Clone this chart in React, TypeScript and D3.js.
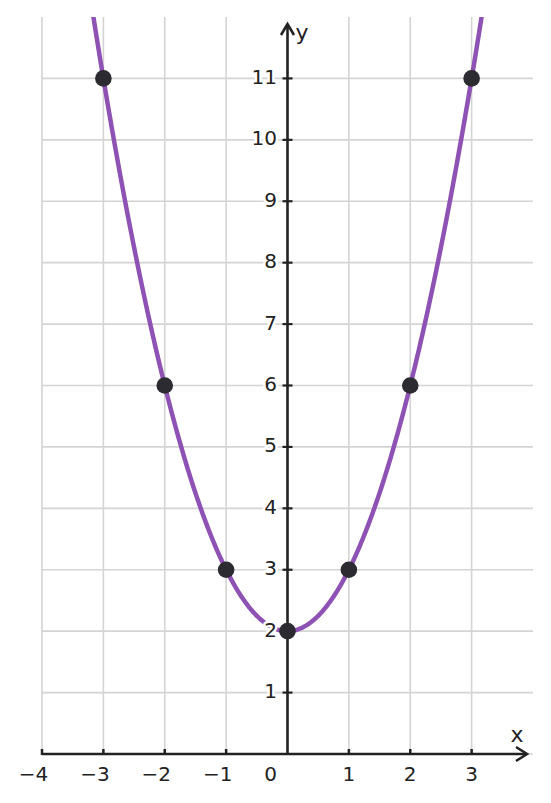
import React from "react";
import * as d3 from "d3";

const xTicks = [-4, -3, -2, -1, 1, 2, 3];
const yTicks = [1, 2, 3, 4, 5, 6, 7, 8, 9, 10, 11];
const pointX = [-3, -2, -1, 0, 1, 2, 3];
const pointY = [11, 6, 3, 2, 3, 6, 11];
// function shown: y = a*x^2 + c
const coefA = 1;
const coefC = 2;

const W = 551;
const H = 803;
const FONT = "'DejaVu Sans', sans-serif";

export default function App() {
  const x = d3.scaleLinear().domain([-4, 4]).range([42, 533]);
  const y = d3.scaleLinear().domain([0, 12]).range([754, 17]);

  const samples = d3.range(-4, 4.0001, 0.02).map((v) => [v, coefA * v * v + coefC] as [number, number]);
  const line = d3
    .line<[number, number]>()
    .x((d) => x(d[0]))
    .y((d) => y(d[1]));

  const axisColor = "#222222";
  const gridColor = "#d4d4d4";
  const x0 = x(0);
  const y0 = y(0);
  const xEnd = 527;
  const yTop = 24;

  return (
    <svg
      width={W}
      height={H}
      style={{ position: "absolute", left: 0, top: 0, background: "#fff" }}
      fontFamily={FONT}
    >
      <defs>
        <clipPath id="plot">
          <rect x={x(-4)} y={y(12)} width={x(4) - x(-4)} height={y(0) - y(12)} />
        </clipPath>
      </defs>
      <rect width={W} height={H} fill="#fff" />
      {xTicks.map((t) => (
        <line key={"gx" + t} x1={x(t)} x2={x(t)} y1={y(12)} y2={y(0)} stroke={gridColor} strokeWidth={1.6} />
      ))}
      {[0, ...yTicks].map((t) => (
        <line key={"gy" + t} x1={x(-4)} x2={x(4)} y1={y(t)} y2={y(t)} stroke={gridColor} strokeWidth={1.6} />
      ))}
      <path
        d={line(samples) || ""}
        fill="none"
        stroke="#8e52b5"
        strokeWidth={4.5}
        clipPath="url(#plot)"
      />
      <line x1={x(-4)} x2={xEnd} y1={y0} y2={y0} stroke={axisColor} strokeWidth={2.6} />
      <polyline
        points={`${xEnd - 11},${y0 - 7} ${xEnd},${y0} ${xEnd - 11},${y0 + 7}`}
        fill="none"
        stroke={axisColor}
        strokeWidth={2.6}
      />
      <line x1={x0} x2={x0} y1={y0} y2={yTop} stroke={axisColor} strokeWidth={2.6} />
      <polyline
        points={`${x0 - 6.5},${yTop + 11} ${x0},${yTop} ${x0 + 6.5},${yTop + 11}`}
        fill="none"
        stroke={axisColor}
        strokeWidth={2.6}
      />
      {xTicks.map((t) => (
        <line key={"tx" + t} x1={x(t)} x2={x(t)} y1={y0 - 5} y2={y0 + 1} stroke={axisColor} strokeWidth={2.5} />
      ))}
      {yTicks.map((t) => (
        <line key={"ty" + t} x1={x0 - 5} x2={x0 + 5} y1={y(t)} y2={y(t)} stroke={axisColor} strokeWidth={2.2} />
      ))}
      {xTicks.map((t) => (
        <text
          key={"lx" + t}
          x={x(t) + 6.3}
          y={781}
          textAnchor="end"
          fontSize={20}
          fill={axisColor}
        >
          {t < 0 ? "\u2212" + Math.abs(t) : String(t)}
        </text>
      ))}
      <text x={277} y={781} textAnchor="end" fontSize={20} fill={axisColor}>
        0
      </text>
      {yTicks.map((t) => (
        <text
          key={"ly" + t}
          x={277}
          y={y(t) + 5.5}
          textAnchor="end"
          fontSize={20}
          fill={axisColor}
          stroke="#fff"
          strokeWidth={5}
          paintOrder="stroke"
          strokeLinejoin="round"
        >
          {t}
        </text>
      ))}
      <text x={517} y={742} textAnchor="middle" fontSize={22} fill={axisColor}>
        x
      </text>
      <text x={302} y={40} textAnchor="middle" fontSize={22} fill={axisColor}>
        y
      </text>
      {pointX.map((px, i) => (
        <circle key={"p" + i} cx={x(px)} cy={y(pointY[i])} r={8.3} fill="#2b2b31" />
      ))}
    </svg>
  );
}
